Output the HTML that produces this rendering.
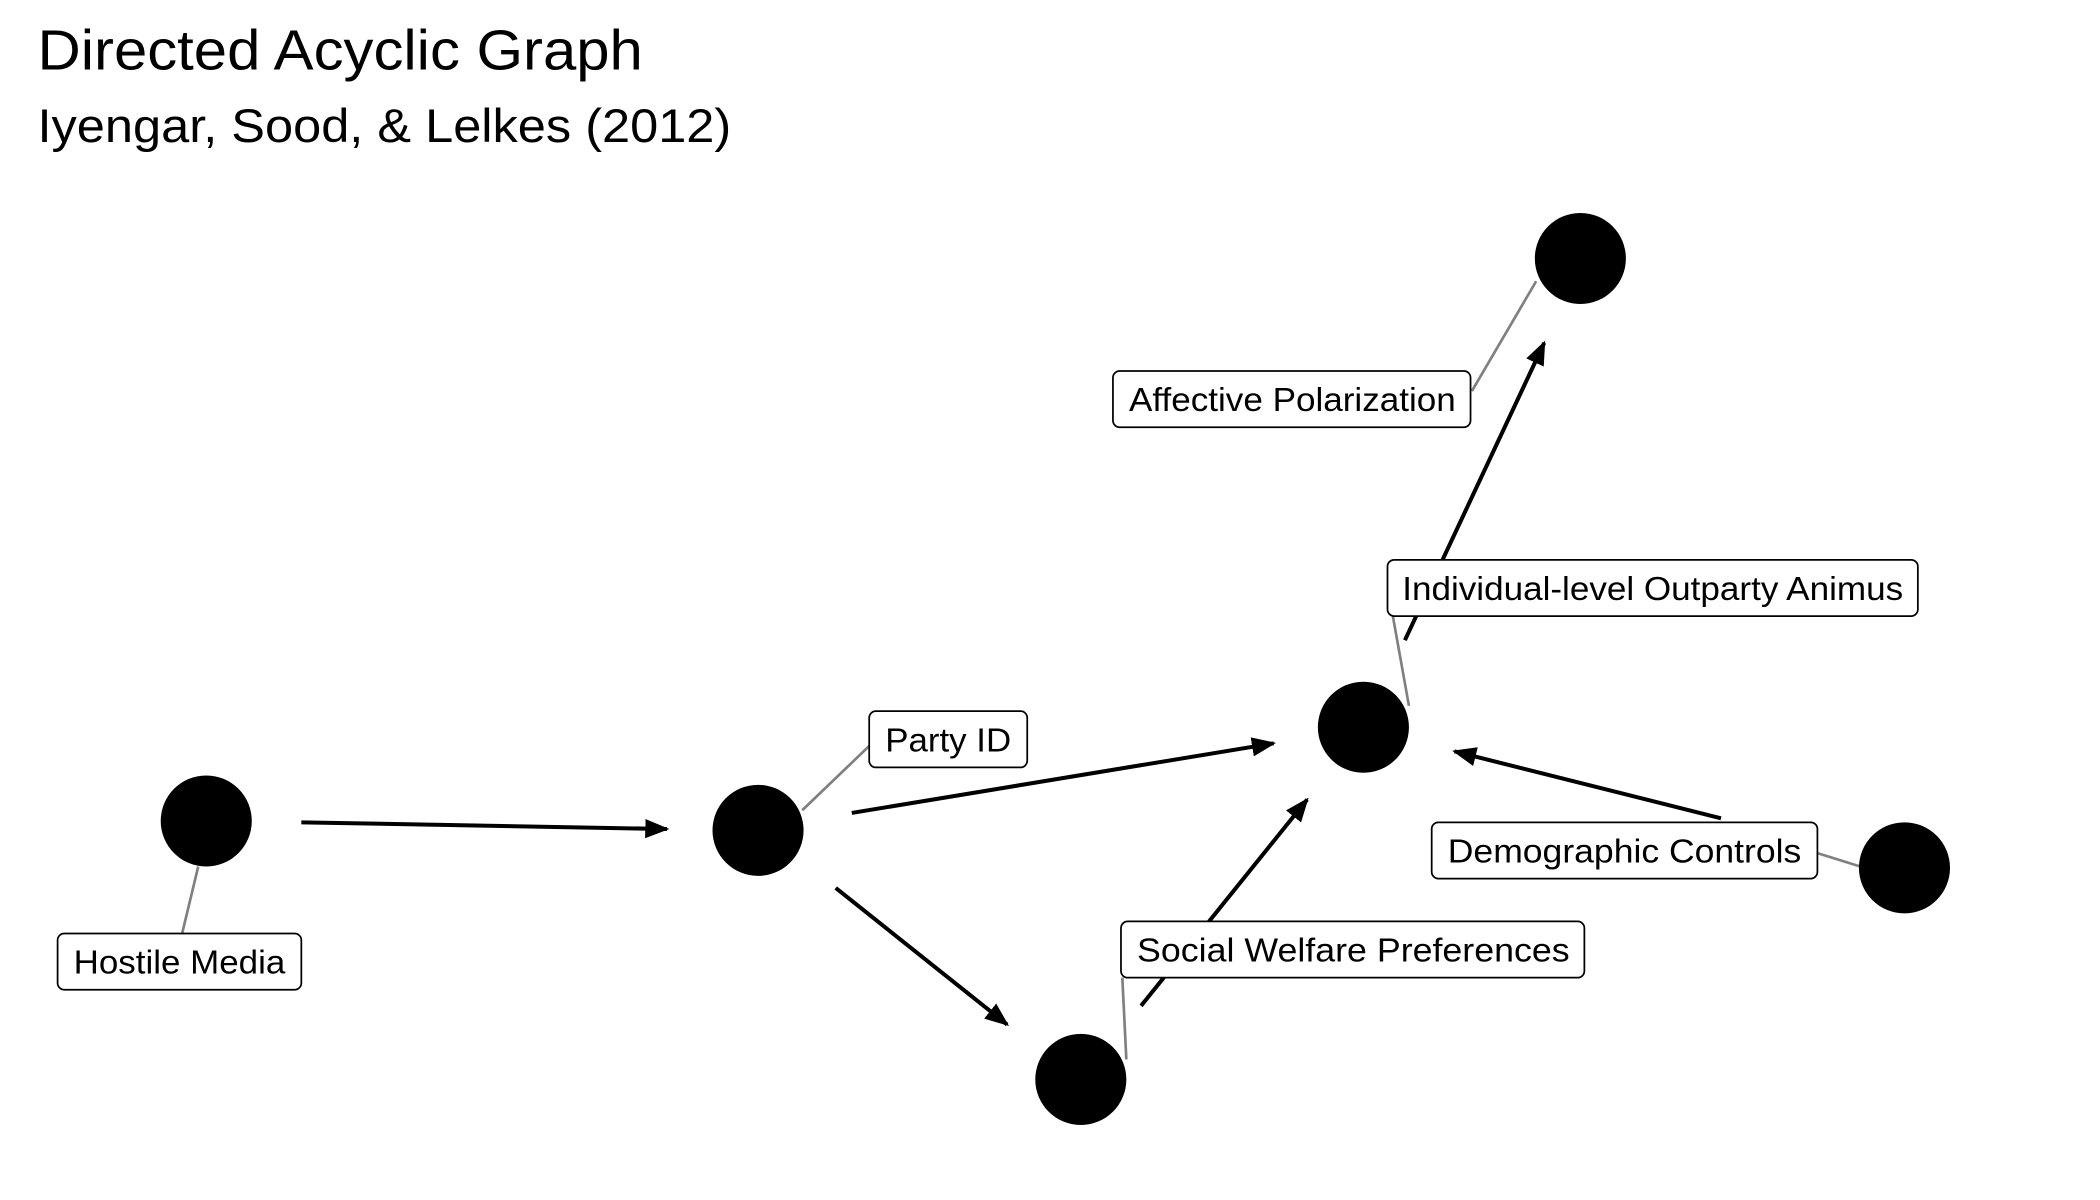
<!DOCTYPE html>
<html><head><meta charset="utf-8"><style>html,body{margin:0;padding:0;background:#fff}svg{display:block}</style></head>
<body>
<svg width="2100" height="1200" viewBox="0 0 1568 896" xmlns="http://www.w3.org/2000/svg" font-family="Liberation Sans, Arial, sans-serif">
<defs><marker id="a" viewBox="0 0 10 10" refX="9" refY="5" markerWidth="6" markerHeight="6" orient="auto" markerUnits="strokeWidth"><path d="M0,1 L10,5 L0,9 z" fill="#000"/></marker></defs>
<rect width="1568" height="896" fill="#fff"/>
<text x="28" y="52" font-size="42" textLength="452" lengthAdjust="spacingAndGlyphs">Directed Acyclic Graph</text>
<text x="28" y="106" font-size="35" textLength="518" lengthAdjust="spacingAndGlyphs">Iyengar, Sood, &amp; Lelkes (2012)</text>
<g stroke="#000" stroke-width="3" marker-end="url(#a)">
<line x1="225" y1="614" x2="498" y2="619"/>
<line x1="636" y1="607" x2="951" y2="555"/>
<line x1="624" y1="663" x2="752" y2="765"/>
<line x1="852" y1="751" x2="976" y2="597"/>
<line x1="1285" y1="611" x2="1086" y2="561"/>
<line x1="1049" y1="478" x2="1153" y2="256"/>
</g>
<g stroke="#808080" stroke-width="2">
<line x1="1099" y1="292" x2="1147" y2="210"/>
<line x1="1040" y1="460" x2="1052" y2="527"/>
<line x1="649" y1="557" x2="599" y2="605"/>
<line x1="1357" y1="637" x2="1389" y2="647"/>
<line x1="838" y1="730" x2="841" y2="791"/>
<line x1="148" y1="647" x2="136" y2="697"/>
</g>
<g fill="#000">
<circle cx="154" cy="613" r="34"/>
<circle cx="566" cy="620" r="34"/>
<circle cx="807" cy="806" r="34"/>
<circle cx="1018" cy="543" r="34"/>
<circle cx="1422" cy="648" r="34"/>
<circle cx="1180" cy="193" r="34"/>
</g>
<g fill="#fff" stroke="#000" stroke-width="1.3">
<rect x="831" y="277" width="267" height="42" rx="5"/>
<rect x="1036" y="418" width="396" height="42" rx="5"/>
<rect x="649" y="531" width="118" height="42" rx="5"/>
<rect x="1069" y="614" width="288" height="42" rx="5"/>
<rect x="837" y="688" width="346" height="42" rx="5"/>
<rect x="43" y="697" width="182" height="42" rx="5"/>
</g>
<g font-size="25" fill="#000">
<text x="843" y="307" textLength="244" lengthAdjust="spacingAndGlyphs">Affective Polarization</text>
<text x="1047" y="448" textLength="374" lengthAdjust="spacingAndGlyphs">Individual-level Outparty Animus</text>
<text x="661" y="561" textLength="94" lengthAdjust="spacingAndGlyphs">Party ID</text>
<text x="1081" y="644" textLength="264" lengthAdjust="spacingAndGlyphs">Demographic Controls</text>
<text x="849" y="718" textLength="323" lengthAdjust="spacingAndGlyphs">Social Welfare Preferences</text>
<text x="55" y="727" textLength="158" lengthAdjust="spacingAndGlyphs">Hostile Media</text>
</g>
</svg>
</body></html>
